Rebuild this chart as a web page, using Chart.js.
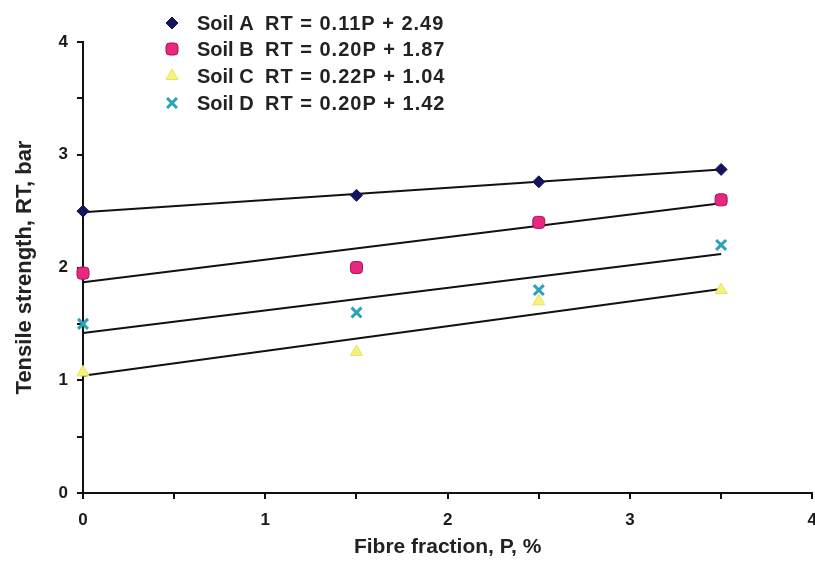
<!DOCTYPE html>
<html>
<head>
<meta charset="utf-8">
<script src="https://cdn.jsdelivr.net/npm/chart.js@4.4.0/dist/chart.umd.min.js"></script>
<style>
  html, body { margin: 0; padding: 0; background: #fff; }
  #wrap { width: 815px; height: 565px; position: relative; overflow: hidden; }
</style>
</head>
<body>
<div id="wrap"><canvas id="chart" width="828" height="565"></canvas></div>
<script>
// measured points (fibre %, tensile strength bar)
const fibre = [0, 1.5, 2.5, 3.5];
const soilA = [2.50, 2.64, 2.76, 2.87];
const soilB = [1.95, 2.00, 2.40, 2.60];
const soilC = [1.07, 1.25, 1.70, 1.80];
const soilD = [1.50, 1.60, 1.80, 2.20];

// fitted lines, end points
const fitX = [0, 3.5];
const fitA = [2.49, 2.87];
const fitB = [1.87, 2.57];
const fitC = [1.04, 1.81];
const fitD = [1.42, 2.12];

const soilNames = ['Soil A', 'Soil B', 'Soil C', 'Soil D'];
const equations = ['RT = 0.11P + 2.49', 'RT = 0.20P + 1.87', 'RT = 0.22P + 1.04', 'RT = 0.20P + 1.42'];

const FONT = '"Liberation Sans", Arial, sans-serif';

const markers = [
    { style: 'rectRot', radius: 6, fill: '#14145a', stroke: '#14145a' },
    { style: 'rectRounded', radius: 7, fill: '#e8287f', stroke: '#b01058' },
    { style: 'triangle', radius: 7, fill: '#f6f37a', stroke: '#ece060' },
    { style: 'crossRot', radius: 7, fill: '#2aa2b8', stroke: '#2aa2b8' }
];

function pts(xs, ys) {
    return xs.map((x, i) => ({ x: x, y: ys[i] }));
}

var datasets = [];
[soilA, soilB, soilC, soilD].forEach(function (vals, i) {
    datasets.push({
        label: soilNames[i],
        data: pts(fibre, vals),
        showLine: false,
        clip: false,
        pointStyle: markers[i].style,
        pointRadius: markers[i].radius,
        pointBackgroundColor: markers[i].fill,
        pointBorderColor: markers[i].stroke,
        pointBorderWidth: markers[i].style === 'crossRot' ? 3 : 1,
        order: 1
    });
});
[fitA, fitB, fitC, fitD].forEach(function (vals) {
    datasets.push({
        label: '',
        data: pts(fitX, vals),
        showLine: true,
        clip: false,
        borderColor: '#111',
        borderWidth: 2,
        pointRadius: 0,
        order: 2
    });
});

// legend drawn inside the plot, top left
const legendPlugin = {
    id: 'soilLegend',
    afterDraw(chart) {
        const ctx = chart.ctx;
        ctx.save();
        const rows = [23, 49, 76, 103];
        rows.forEach(function (y, i) {
            const m = markers[i];
            ctx.fillStyle = m.fill;
            ctx.strokeStyle = m.stroke;
            ctx.lineWidth = m.style === 'crossRot' ? 3 : 1;
            Chart.helpers.drawPoint(ctx, { pointStyle: m.style, radius: m.radius, borderWidth: ctx.lineWidth }, 172, y);
            ctx.fillStyle = '#222';
            ctx.font = 'bold 20px ' + FONT;
            ctx.textBaseline = 'middle';
            ctx.letterSpacing = '0px';
            ctx.fillText(soilNames[i], 197, y + 1);
            ctx.letterSpacing = '1px';
            ctx.fillText(equations[i], 265, y + 1);
        });
        ctx.restore();
    }
};

const tickLabel = function (value) {
    return Number.isInteger(value) ? value : '';
};

var chart = new Chart(document.getElementById('chart').getContext('2d'), {
    type: 'scatter',
    data: { datasets: datasets },
    options: {
        responsive: false,
        animation: false,
        layout: { padding: { top: 42, right: 3, left: 0, bottom: 0 } },
        plugins: {
            legend: { display: false },
            tooltip: { enabled: false }
        },
        scales: {
            x: {
                type: 'linear',
                min: 0,
                max: 4,
                afterFit: function (scale) { scale.height = 72; },
                border: { display: true, color: '#111', width: 2 },
                grid: { drawOnChartArea: false, drawTicks: true, tickLength: 6, color: '#111', lineWidth: 2 },
                ticks: {
                    stepSize: 0.5,
                    autoSkip: false,
                    maxRotation: 0,
                    padding: 11,
                    color: '#1a1a1a',
                    font: { family: FONT, size: 17, weight: 'bold' },
                    callback: tickLabel
                },
                title: {
                    display: true,
                    text: 'Fibre fraction, P, %',
                    color: '#222',
                    padding: { top: 0, bottom: 5 },
                    font: { family: FONT, size: 21, weight: 'bold' }
                }
            },
            y: {
                type: 'linear',
                min: 0,
                max: 4,
                afterFit: function (scale) { scale.width = 83; },
                border: { display: true, color: '#111', width: 2 },
                grid: { drawOnChartArea: false, drawTicks: true, tickLength: 6, color: '#111', lineWidth: 2 },
                ticks: {
                    stepSize: 0.5,
                    autoSkip: false,
                    padding: 9,
                    color: '#1a1a1a',
                    font: { family: FONT, size: 17, weight: 'bold' },
                    callback: tickLabel
                },
                title: {
                    display: true,
                    text: 'Tensile strength, RT, bar',
                    color: '#222',
                    padding: { top: 12, bottom: 0 },
                    font: { family: FONT, size: 22, weight: 'bold' }
                }
            }
        }
    },
    plugins: [legendPlugin]
});
</script>
</body>
</html>
